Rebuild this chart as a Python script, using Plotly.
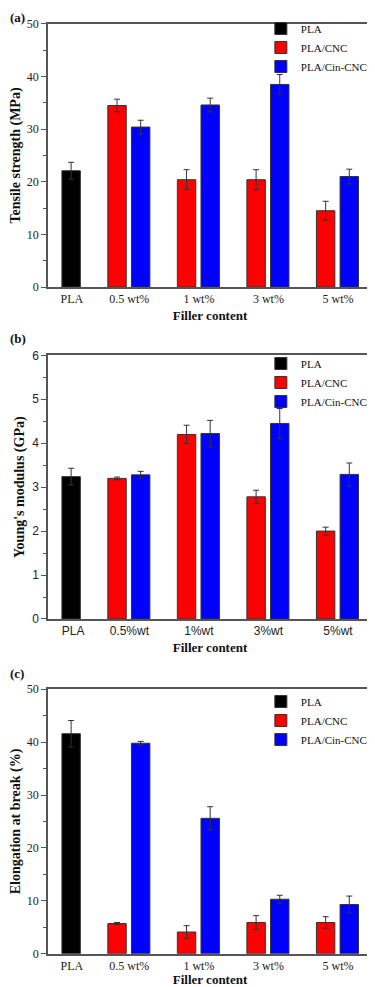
import plotly.graph_objects as go

# tick labels for the three panels
categories = ["PLA", "0.5 wt%", "1 wt%", "3 wt%", "5 wt%"]
categories_b = ["PLA", "0.5%wt", "1%wt", "3%wt", "5%wt"]

# (a) tensile strength, MPa
tensile_pla = [22.1]
tensile_pla_err = [1.6]
tensile_cnc = [34.5, 20.4, 20.4, 14.5]
tensile_cnc_err = [1.2, 1.9, 1.9, 1.8]
tensile_cin = [30.4, 34.6, 38.5, 21.0]
tensile_cin_err = [1.3, 1.3, 1.9, 1.4]

# (b) Young's modulus, GPa
modulus_pla = [3.24]
modulus_pla_err = [0.19]
modulus_cnc = [3.20, 4.20, 2.78, 2.00]
modulus_cnc_err = [0.03, 0.21, 0.15, 0.09]
modulus_cin = [3.28, 4.22, 4.45, 3.29]
modulus_cin_err = [0.08, 0.30, 0.34, 0.26]

# (c) elongation at break, %
elong_pla = [41.6]
elong_pla_err = [2.5]
elong_cnc = [5.7, 4.1, 5.9, 5.9]
elong_cnc_err = [0.2, 1.2, 1.3, 1.1]
elong_cin = [39.8, 25.6, 10.3, 9.3]
elong_cin_err = [0.35, 2.2, 0.75, 1.6]

SERIF = "Liberation Serif, Times New Roman, serif"
SANS = "Liberation Sans, Arial, sans-serif"
FRAME = '#555555'
EDGE = '#333333'
BAR_W = 0.265

fig = go.Figure()


def add_panel(n, cats, pla, pla_err, cnc, cnc_err, cin, cin_err,
              ytitle, ymax, dtick, ydomain, legend_y, tickfont_family):
    xa = 'x' if n == 1 else 'x%d' % n
    ya = 'y' if n == 1 else 'y%d' % n
    lg = 'legend' if n == 1 else 'legend%d' % n
    err_style = dict(type='data', thickness=1, width=3, color=EDGE)

    fig.add_bar(x=cats[:1], y=pla, name='PLA',
                error_y=dict(array=pla_err, **err_style),
                marker=dict(color='#000000', line=dict(color=EDGE, width=1)),
                width=BAR_W, offset=0.03, xaxis=xa, yaxis=ya, legend=lg)
    fig.add_bar(x=cats[1:], y=cnc, name='PLA/CNC',
                error_y=dict(array=cnc_err, **err_style),
                marker=dict(color='#ff0000', line=dict(color=EDGE, width=1)),
                width=BAR_W, offset=-0.31, xaxis=xa, yaxis=ya, legend=lg)
    fig.add_bar(x=cats[1:], y=cin, name='PLA/Cin-CNC',
                error_y=dict(array=cin_err, **err_style),
                marker=dict(color='#0000ff', line=dict(color=EDGE, width=1)),
                width=BAR_W, offset=0.03, xaxis=xa, yaxis=ya, legend=lg)

    ticktext = ['\u00a0' * 8 + cats[0]] + cats[1:]
    fig.layout['xaxis' if n == 1 else 'xaxis%d' % n] = dict(
        domain=[0.109, 0.992], anchor=ya, type='category',
        categoryorder='array', categoryarray=cats,
        tickvals=cats, ticktext=ticktext,
        range=[-0.17, 4.49], showline=True, mirror=True,
        linecolor=FRAME, linewidth=1.5, ticks='', showgrid=False,
        automargin=False,
        tickfont=dict(family=tickfont_family, size=12, color='#222222'),
        title=dict(text='<b>Filler content</b>', standoff=6,
                   font=dict(family=SERIF, size=13, color='#111111')))
    fig.layout['yaxis' if n == 1 else 'yaxis%d' % n] = dict(
        domain=ydomain, anchor=xa, range=[0, ymax], dtick=dtick,
        showline=True, mirror=True, linecolor=FRAME, linewidth=1.5,
        ticks='outside', ticklen=5, tickwidth=1, tickcolor=FRAME,
        minor=dict(ticks='outside', ticklen=3, dtick=dtick / 2, tickcolor=FRAME),
        showgrid=False, zeroline=False, automargin=False,
        tickfont=dict(family=tickfont_family, size=12, color='#222222'),
        title=dict(text='<b>%s</b>' % ytitle, standoff=4,
                   font=dict(family=SERIF, size=14, color='#111111')))
    fig.layout[lg] = dict(x=0.689, y=legend_y, xanchor='left', yanchor='top',
                          bgcolor='rgba(0,0,0,0)', tracegroupgap=0,
                          itemwidth=30,
                          font=dict(family=SERIF, size=11, color='#111111'))


add_panel(1, categories, tensile_pla, tensile_pla_err, tensile_cnc, tensile_cnc_err,
          tensile_cin, tensile_cin_err, 'Tensile strength (MPa)', 50, 10,
          [0.7150, 0.9837], 0.9939, SERIF)
add_panel(2, categories_b, modulus_pla, modulus_pla_err, modulus_cnc, modulus_cnc_err,
          modulus_cin, modulus_cin_err, "Young's modulus (GPa)", 6, 1,
          [0.3759, 0.6452], 0.6517, SANS)
add_panel(3, categories, elong_pla, elong_pla_err, elong_cnc, elong_cnc_err,
          elong_cin, elong_cin_err, 'Elongation at break (%)', 50, 10,
          [0.0340, 0.3041], 0.3064, SERIF)

for label, ypos in [('(a)', 1.0), ('(b)', 0.6629), ('(c)', 0.3207)]:
    fig.add_annotation(text='<b>%s</b>' % label, xref='paper', yref='paper',
                       x=0.0, y=ypos, xanchor='left',
                       yanchor='top' if ypos == 1.0 else 'middle',
                       showarrow=False,
                       font=dict(family=SERIF, size=13, color='#111111'))

# page body adds an 8px margin, so the figure is sized to fit the 375x987 window
fig.update_layout(width=367, height=979, barmode='overlay',
                  paper_bgcolor='white', plot_bgcolor='white',
                  margin=dict(l=0, r=0, t=0, b=0, autoexpand=False))

fig.write_html("out.html")
